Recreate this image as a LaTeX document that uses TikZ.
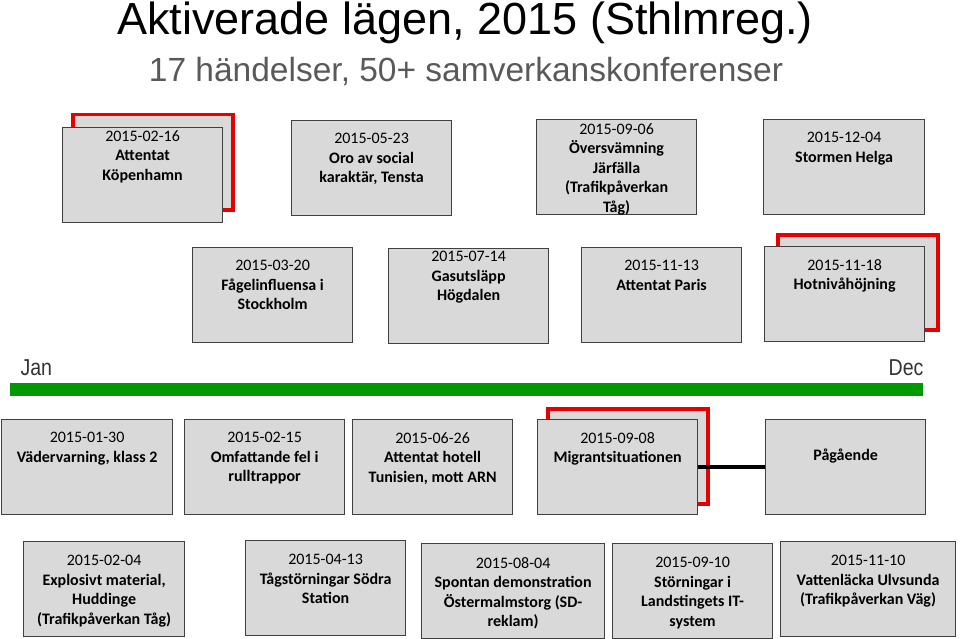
\documentclass[tikz,border=0pt]{standalone}
\usepackage{fontspec}
\setmainfont{Carlito}
\newfontfamily\arialfont{Liberation Sans}
\newfontfamily\narrowfont[FakeStretch=0.85]{Liberation Sans}
\usetikzlibrary{positioning}
\definecolor{boxgray}{RGB}{217,217,217}
\definecolor{boxline}{RGB}{64,64,64}
\definecolor{flagred}{RGB}{232,0,0}
\definecolor{bargreen}{RGB}{0,153,0}
\definecolor{subgray}{RGB}{89,89,89}
\tikzset{
  event/.style={draw=boxline,fill=boxgray,line width=1.2pt,inner sep=0pt,
    minimum width=160pt,minimum height=95pt,anchor=north west},
  flag/.style={event,draw=flagred,line width=3.5pt},
  evtext/.style={align=center,inner sep=0pt,
    font=\fontsize{16}{19.5}\selectfont},
}
\begin{document}
\begin{tikzpicture}[x=1pt,y=1pt]
  \useasboundingbox (0,0) rectangle (960,-639);
  % rubrik
  \node[anchor=base,font=\arialfont\fontsize{45}{50}\selectfont](title) at (465,-35) {Aktiverade lägen, 2015 (Sthlmreg.)};
  \node[anchor=base,font=\arialfont\fontsize{33.5}{38}\selectfont,text=subgray](subtitle) at (466,-82) {17 händelser, 50+ samverkanskonferenser};
  % rad 1
  \node[flag](kopB) at (71,-113) {};
  \node[event](kop) at (62,-127) {};
  \node[evtext,below=3pt of kop.north](kopT) {2015-02-16\\\textbf{Attentat}\\\textbf{Köpenhamn}};
  \node[event](ten) at (291,-120) {};
  \node[evtext,below=13pt of ten.north](tenT) {2015-05-23\\\textbf{Oro av social}\\\textbf{karaktär, Tensta}};
  \node[event](jar) at (536,-119) {};
  \node[evtext,below=4pt of jar.north](jarT) {2015-09-06\\\textbf{Översvämning}\\\textbf{Järfälla}\\\textbf{(Trafikpåverkan}\\\textbf{Tåg)}};
  \node[event,minimum width=161pt](hel) at (763,-119) {};
  \node[evtext,below=13pt of hel.north](helT) {2015-12-04\\\textbf{Stormen Helga}};
  % rad 2
  \node[event](sto) at (192,-247) {};
  \node[evtext,below=13pt of sto.north](stoT) {2015-03-20\\\textbf{Fågelinfluensa i}\\\textbf{Stockholm}};
  \node[event](hog) at (388,-248) {};
  \node[evtext,below=3pt of hog.north](hogT) {2015-07-14\\\textbf{Gasutsläpp}\\\textbf{Högdalen}};
  \node[event](par) at (581,-247) {};
  \node[evtext,below=13pt of par.north](parT) {2015-11-13\\\textbf{Attentat Paris}};
  \node[flag](hotB) at (776,-233) {};
  \node[event](hot) at (764,-246) {};
  \node[evtext,below=13pt of hot.north](hotT) {2015-11-18\\\textbf{Hotnivåhöjning}};
  % tidslinje
  \node[fill=bargreen,inner sep=0pt,minimum width=913pt,minimum height=13pt,anchor=north west](bar) at (10,-383) {};
  \node[anchor=base west,font=\narrowfont\fontsize{23}{26}\selectfont,text=black!80](jan) at (17,-375) {Jan};
  \node[anchor=base east,font=\narrowfont\fontsize{23}{26}\selectfont,text=black!80](dec) at (927,-375) {Dec};
  % rad 3
  \node[event,minimum width=171pt](vad) at (1,-419) {};
  \node[evtext,below=13pt of vad.north](vadT) {2015-01-30\\\textbf{Vädervarning, klass 2}};
  \node[event](omf) at (184,-419) {};
  \node[evtext,below=13pt of omf.north](omfT) {2015-02-15\\\textbf{Omfattande fel i}\\\textbf{rulltrappor}};
  \node[event](tun) at (352,-419) {};
  \node[evtext,below=13pt of tun.north](tunT) {2015-06-26\\\textbf{Attentat hotell}\\\textbf{Tunisien, mott ARN}};
  \node[flag](migB) at (546,-407) {};
  \node[event](mig) at (537,-419) {};
  \node[evtext,below=13pt of mig.north](migT) {2015-09-08\\\textbf{Migrantsituationen}};
  \node[event](pag) at (765,-419) {};
  \node[evtext,below=30pt of pag.north](pagT) {\textbf{Pågående}};
  \draw[line width=3.5pt] (mig.east)--(pag.west);
  % rad 4
  \node[event,minimum width=161pt](exp) at (23,-541) {};
  \node[evtext,below=14pt of exp.north](expT) {2015-02-04\\\textbf{Explosivt material,}\\\textbf{Huddinge}\\\textbf{(Trafikpåverkan Tåg)}};
  \node[event](tag) at (245,-540) {};
  \node[evtext,below=14pt of tag.north](tagT) {2015-04-13\\\textbf{Tågstörningar Södra}\\\textbf{Station}};
  \node[event,minimum width=183pt](spo) at (421,-543) {};
  \node[evtext,below=14pt of spo.north](spoT) {2015-08-04\\\textbf{Spontan demonstration}\\\textbf{Östermalmstorg (SD-}\\\textbf{reklam)}};
  \node[event](lan) at (612,-543) {};
  \node[evtext,below=14pt of lan.north](lanT) {2015-09-10\\\textbf{Störningar i}\\\textbf{Landstingets IT-}\\\textbf{system}};
  \node[event,minimum width=175pt](vat) at (780,-541) {};
  \node[evtext,below=14pt of vat.north](vatT) {2015-11-10\\\textbf{Vattenläcka Ulvsunda}\\\textbf{(Trafikpåverkan Väg)}};
\end{tikzpicture}
\end{document}
